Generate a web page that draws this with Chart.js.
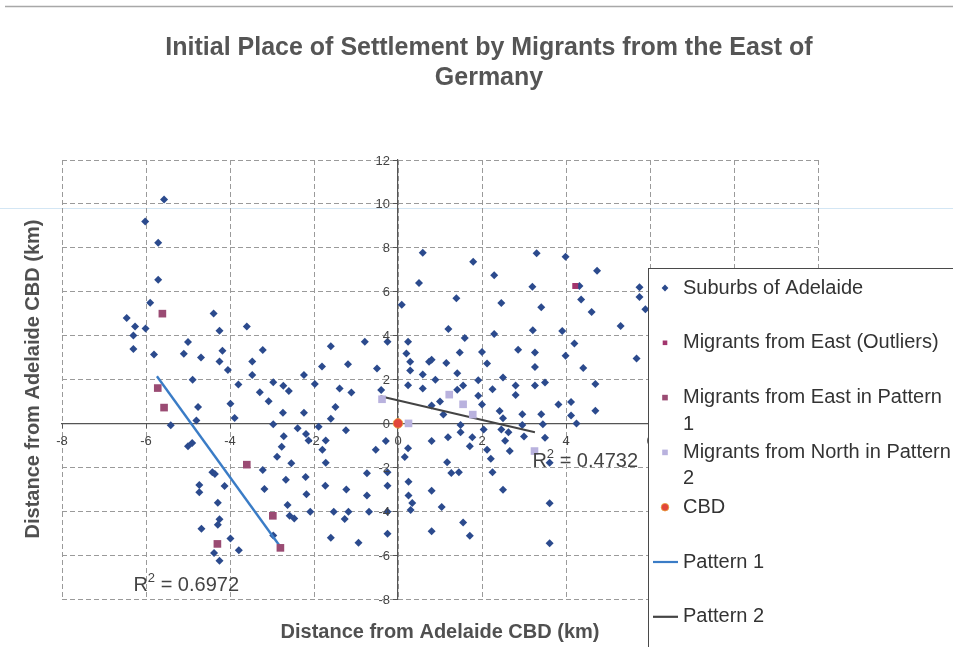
<!DOCTYPE html>
<html>
<head>
<meta charset="utf-8">
<script src="https://cdn.jsdelivr.net/npm/chart.js@4.4.1/dist/chart.umd.min.js"></script>
<style>
  html, body { margin: 0; padding: 0; background: #ffffff; }
  #wrap { position: relative; width: 953px; height: 647px; overflow: hidden; }
  canvas { display: block; }
</style>
</head>
<body>
<div id="wrap"><canvas id="c" width="953" height="647"></canvas></div>
<script>
// ---------- DATA ----------
const titleLines = ['Initial Place of Settlement by Migrants from the East of', 'Germany'];
const xAxisTitle = 'Distance from Adelaide CBD (km)';
const yAxisTitle = 'Distance from Adelaide CBD (km)';
const xTickRange = [-8, 10, 2];
const yTickRange = [-8, 12, 2];
const seriesNames = ['Suburbs of Adelaide', 'Migrants from East (Outliers)', 'Migrants from East in Pattern 1',
                     'Migrants from North in Pattern 2', 'CBD', 'Pattern 1', 'Pattern 2'];

const suburbs = [
[-5.57,10.2],[-6.02,9.2],[-5.71,8.23],[-5.71,6.55],[-5.90,5.50],[-6.46,4.80],[-6.26,4.41],[-6.01,4.32],[-6.30,4.01],[-6.30,3.39],[-5.81,3.14],[-4.39,5.01],[-4.25,4.22],[-5.00,3.71],[-5.10,3.17],[-4.69,3.00],[-4.18,3.31],[-4.25,2.82],[-4.05,2.43],[-4.89,1.99],[-4.76,0.75],[-4.80,0.13],[-5.41,-0.08],[-3.60,4.41],[-3.22,3.34],[-3.47,2.82],[-3.47,2.21],[-3.80,1.77],[-3.99,0.89],[-3.89,0.25],[-3.29,1.42],[-3.08,1.01],[-2.97,1.88],[-2.73,1.71],[-2.60,1.48],[-2.74,0.49],[-2.97,-0.04],
[-2.24,2.20],[-2.24,0.49],[-1.98,1.80],[-1.81,2.59],[-1.60,3.51],[-1.39,1.59],[-1.49,0.75],[-1.60,0.21],[-1.19,2.69],[-1.11,1.41],[-0.79,3.72],[-0.50,2.50],[-0.40,1.52],[-0.25,3.72],[0.09,5.40],[0.50,6.40],[0.59,7.77],[0.24,3.72],[0.20,3.19],[0.29,2.81],[0.29,2.41],[0.24,1.74],[0.59,2.23],[0.59,1.59],[0.74,2.81],[0.80,2.90],[0.89,1.99],[0.80,0.81],[1.00,1.00],[1.08,0.40],[1.15,2.75],[1.20,4.30],[1.39,5.70],[1.41,2.29],[1.41,1.53],[1.47,3.23],
[1.79,7.36],[2.29,6.75],[2.46,5.49],[3.30,7.75],[3.99,7.59],[4.74,6.95],[3.20,6.22],[3.41,5.29],[4.32,6.26],[4.36,5.64],[4.61,5.08],[5.30,4.44],[5.75,6.20],[5.75,5.76],[5.89,5.20],[5.68,2.96],[1.59,3.89],[2.00,3.25],[2.29,4.07],[2.12,2.73],[2.86,3.36],[3.21,4.24],[3.26,3.23],[3.26,2.57],[3.91,4.21],[4.20,3.64],[3.99,3.08],[4.41,2.52],[4.70,1.80],[4.70,0.58],[4.12,0.97],[4.12,0.36],[1.55,1.73],[1.91,1.97],[1.91,1.26],[2.00,0.86],[2.25,1.56],[2.50,2.09],[2.80,1.73],[2.80,1.29],[3.26,1.73],[3.50,1.86],[2.42,0.56],[2.50,0.24],[2.96,0.42],[3.41,0.42],[3.82,0.86],[4.25,-0.01],[3.45,-0.04],[1.49,-0.07],
[1.49,-0.40],[1.77,-0.63],[1.71,-1.04],[2.04,-0.28],[2.12,-1.20],[2.21,-1.61],[2.25,-2.23],[2.46,-0.28],[2.55,-0.79],[2.63,-0.40],[2.66,-1.26],[2.50,-3.02],[2.96,-0.07],[3.00,-0.60],[3.50,-0.65],[3.61,-1.79],[3.61,-3.64],[3.61,-5.46],[1.55,-4.51],[1.71,-5.12],[1.45,-2.23],[1.27,-2.26],[0.24,-1.13],[0.16,-1.53],[0.80,-0.80],[1.17,-1.77],[1.19,-0.63],[0.25,-2.66],[0.25,-3.28],[0.34,-3.63],[0.30,-3.95],[0.80,-3.07],[0.80,-4.91],[1.04,-3.81],
[-2.72,-0.58],[-2.77,-1.06],[-2.39,-0.22],[-2.19,-0.48],[-2.13,-0.78],[-1.89,-0.15],[-1.80,-1.20],[-1.72,-0.78],[-1.24,-0.31],[-1.72,-1.79],[-2.54,-1.82],[-2.67,-2.57],[-2.20,-2.44],[-2.18,-3.23],[-2.63,-3.72],[-2.58,-4.21],[-2.47,-4.33],[-2.09,-4.03],[-1.73,-2.84],[-1.23,-3.01],[-1.53,-4.03],[-1.27,-4.35],[-1.18,-4.03],[-1.60,-5.21],[-0.94,-5.44],[-0.74,-2.27],[-0.74,-3.28],[-0.69,-4.03],[-0.53,-1.20],[-0.29,-0.80],[-0.25,-2.23],[-0.25,-2.84],[-0.25,-4.03],[-0.25,-5.03],
[-5.00,-1.04],[-4.90,-0.89],[-4.42,-2.23],[-4.36,-2.30],[-4.73,-2.81],[-4.73,-3.14],[-4.13,-2.85],[-4.29,-3.62],[-4.25,-4.37],[-4.29,-4.62],[-4.68,-4.80],[-3.99,-5.24],[-3.79,-5.78],[-4.38,-5.90],[-4.25,-6.26],[-2.97,-5.11],[-3.22,-2.12],[-3.18,-2.99],[-2.88,-1.52]
];
const eastOutliers = [[4.22, 6.26]];
const eastPattern1 = [[-5.61, 5.0], [-5.72, 1.61], [-5.57, 0.72], [-3.60, -1.88], [-2.98, -4.21], [-4.30, -5.49], [-2.80, -5.67]];
const northPattern2 = [[-0.38, 1.10], [0.25, 0.0], [1.22, 1.31], [1.55, 0.87], [1.78, 0.40], [3.25, -1.26]];
const cbd = [[0, 0]];
const pattern1Line = [[-5.74, 2.15], [-2.81, -5.60]];
const pattern2Line = [[-0.42, 1.24], [3.26, -0.40]];
const r2Values = ['0.6972', '0.4732'];
const r2Anchors = [[-6.3, -7.62], [3.2, -1.98]];

// ---------- STYLE ----------
const FONT = '"Liberation Sans", Arial, Helvetica, sans-serif';
const C_SUB = '#2b4a8d', C_OUT = '#a2356d', C_P1 = '#9a4b73', C_N = '#b9b2de', C_CBD = '#e2453a';
const C_L1 = '#3a7cc6', C_L2 = '#444444';

const toPts = arr => arr.map(p => ({x: p[0], y: p[1]}));

const decor = {
  id: 'decor',
  beforeDraw(chart) {
    const ctx = chart.ctx;
    ctx.save();
    ctx.fillStyle = '#ffffff';
    ctx.fillRect(0, 0, chart.width, chart.height);
    ctx.strokeStyle = '#a8a8a8';
    ctx.lineWidth = 1.5;
    ctx.beginPath(); ctx.moveTo(5, 6.5); ctx.lineTo(chart.width, 6.5); ctx.stroke();
    ctx.strokeStyle = '#d3e6f4';
    ctx.lineWidth = 1;
    ctx.beginPath(); ctx.moveTo(0, 208.5); ctx.lineTo(chart.width, 208.5); ctx.stroke();
    ctx.restore();
  },
  afterDraw(chart) {
    const ctx = chart.ctx;
    const xs = chart.scales.x, ys = chart.scales.y;
    ctx.save();
    // y tick labels (left of the centred y axis)
    const axisX = xs.getPixelForValue(0);
    ctx.fillStyle = '#444444';
    ctx.font = '13px ' + FONT;
    ctx.textAlign = 'right';
    ctx.textBaseline = 'middle';
    ys.ticks.forEach(t => {
      ctx.fillText(String(t.value), axisX - 8, ys.getPixelForValue(t.value) + 1);
    });
    // title
    ctx.fillStyle = '#555555';
    ctx.font = 'bold 25px ' + FONT;
    ctx.textAlign = 'center';
    ctx.textBaseline = 'middle';
    ctx.fillText(titleLines[0], 489, 48);
    ctx.fillText(titleLines[1], 489, 78);
    // axis titles
    ctx.fillStyle = '#505050';
    ctx.font = 'bold 20px ' + FONT;
    ctx.fillText(xAxisTitle, 440, 632);
    ctx.save();
    ctx.translate(33, 379);
    ctx.rotate(-Math.PI / 2);
    ctx.fillText(yAxisTitle, 0, 0);
    ctx.restore();
    // R^2 labels
    ctx.fillStyle = '#444444';
    ctx.textAlign = 'left';
    ctx.textBaseline = 'alphabetic';
    r2Values.forEach((v, i) => {
      let x = xs.getPixelForValue(r2Anchors[i][0]);
      const y = ys.getPixelForValue(r2Anchors[i][1]);
      ctx.font = '20px ' + FONT;
      ctx.fillText('R', x, y);
      x += ctx.measureText('R').width;
      ctx.font = '13px ' + FONT;
      ctx.fillText('2', x, y - 9);
      x += ctx.measureText('2').width;
      ctx.font = '20px ' + FONT;
      ctx.fillText(' = ' + v, x, y);
    });
    // legend
    const lx = 648.5, ly = 268.5;
    ctx.fillStyle = '#ffffff';
    ctx.fillRect(lx, ly, 400, 420);
    ctx.strokeStyle = '#4a4a4a';
    ctx.lineWidth = 1;
    ctx.strokeRect(lx, ly, 400, 420);
    const mx = 665, tx = 683, step = 54.8, y0 = 288;
    const lines = [
      ['Suburbs of Adelaide'],
      ['Migrants from East (Outliers)'],
      ['Migrants from East in Pattern', '1'],
      ['Migrants from North in Pattern', '2'],
      ['CBD'],
      ['Pattern 1'],
      ['Pattern 2']
    ];
    lines.forEach((ls, i) => {
      const cy = y0 + i * step;
      ctx.save();
      if (i === 0) {
        ctx.fillStyle = C_SUB;
        ctx.beginPath(); ctx.moveTo(mx - 3.4, cy); ctx.lineTo(mx, cy - 3.4); ctx.lineTo(mx + 3.4, cy); ctx.lineTo(mx, cy + 3.4); ctx.closePath(); ctx.fill();
      } else if (i === 1) {
        ctx.fillStyle = C_OUT; ctx.fillRect(mx - 2.3, cy - 2.3, 4.6, 4.6);
      } else if (i === 2) {
        ctx.fillStyle = C_P1; ctx.fillRect(mx - 2.8, cy - 2.8, 5.6, 5.6);
      } else if (i === 3) {
        ctx.fillStyle = C_N; ctx.fillRect(mx - 2.8, cy - 2.8, 5.6, 5.6);
      } else if (i === 4) {
        ctx.fillStyle = C_CBD; ctx.beginPath(); ctx.arc(mx, cy, 3.8, 0, Math.PI * 2); ctx.fill();
        ctx.strokeStyle = '#e9a23c'; ctx.lineWidth = 0.8; ctx.stroke();
      } else {
        ctx.strokeStyle = i === 5 ? C_L1 : C_L2; ctx.lineWidth = 2.2;
        ctx.beginPath(); ctx.moveTo(653, cy); ctx.lineTo(678, cy); ctx.stroke();
      }
      ctx.restore();
      ctx.fillStyle = '#333333';
      ctx.font = '20px ' + FONT;
      ctx.textAlign = 'left';
      ctx.textBaseline = 'middle';
      ctx.fillText(ls[0], tx, cy);
      if (ls[1]) ctx.fillText(ls[1], tx, cy + 26.5);
    });
    ctx.restore();
  }
};

new Chart(document.getElementById('c'), {
  type: 'scatter',
  data: {
    datasets: [
      { label: seriesNames[4], data: toPts(cbd), pointStyle: 'circle', pointRadius: 4.8, pointHoverRadius: 4.8,
        backgroundColor: C_CBD, borderColor: '#e9a23c', borderWidth: 0.8, order: 0 },
      { label: seriesNames[3], data: toPts(northPattern2), pointStyle: 'rect', pointRadius: 5.4, pointHoverRadius: 5.4,
        backgroundColor: C_N, borderColor: C_N, borderWidth: 0, order: 1 },
      { label: seriesNames[2], data: toPts(eastPattern1), pointStyle: 'rect', pointRadius: 5.4, pointHoverRadius: 5.4,
        backgroundColor: C_P1, borderColor: C_P1, borderWidth: 0, order: 2 },
      { label: seriesNames[1], data: toPts(eastOutliers), pointStyle: 'rect', pointRadius: 4.2, pointHoverRadius: 4.2,
        backgroundColor: C_OUT, borderColor: C_OUT, borderWidth: 0, order: 3 },
      { label: seriesNames[5], data: toPts(pattern1Line), showLine: true, pointRadius: 0, pointHoverRadius: 0,
        borderColor: C_L1, borderWidth: 2.4, backgroundColor: C_L1, order: 4 },
      { label: seriesNames[6], data: toPts(pattern2Line), showLine: true, pointRadius: 0, pointHoverRadius: 0,
        borderColor: C_L2, borderWidth: 2, backgroundColor: C_L2, order: 5 },
      { label: seriesNames[0], data: toPts(suburbs), pointStyle: 'rectRot', pointRadius: 4, pointHoverRadius: 4,
        backgroundColor: C_SUB, borderColor: C_SUB, borderWidth: 0, order: 6 }
    ]
  },
  options: {
    responsive: false,
    devicePixelRatio: 1,
    animation: false,
    events: [],
    layout: { padding: { left: 62, right: 135, top: 160, bottom: 48 } },
    plugins: { legend: { display: false }, title: { display: false }, tooltip: { enabled: false } },
    scales: {
      x: {
        type: 'linear', min: xTickRange[0], max: xTickRange[1],
        position: { y: 0 },
        afterFit: s => { s.height = 0; s.paddingLeft = 0; s.paddingRight = 0; },
        ticks: { stepSize: xTickRange[2], padding: 6, color: '#444444', font: { family: FONT, size: 13 }, maxRotation: 0, autoSkip: false },
        grid: { color: '#9a9a9a', lineWidth: 1, drawTicks: true, tickLength: 4, tickColor: '#555555' },
        border: { display: true, color: '#555555', width: 1.2, dash: [5, 3] }
      },
      y: {
        type: 'linear', min: yTickRange[0], max: yTickRange[1],
        position: { x: 0 },
        afterFit: s => { s.width = 0; s.paddingTop = 0; s.paddingBottom = 0; },
        ticks: { display: false, stepSize: yTickRange[2], autoSkip: false },
        grid: { color: '#9a9a9a', lineWidth: 1, drawTicks: true, tickLength: 4, tickColor: '#555555' },
        border: { display: true, color: '#555555', width: 1.2, dash: [5, 3] }
      }
    }
  },
  plugins: [decor]
});
</script>
</body>
</html>
